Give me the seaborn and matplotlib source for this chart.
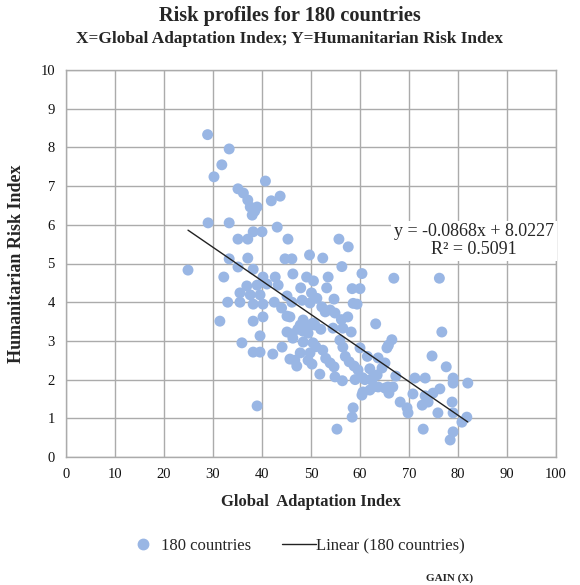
import numpy as np
import pandas as pd
import matplotlib
matplotlib.use("Agg")
import matplotlib.pyplot as plt
from matplotlib.lines import Line2D
import seaborn as sns

# ---- data ----
gain = [
    24.9, 28.9, 29.0, 30.2, 31.8, 33.3, 33.3, 33.3, 32.2, 33.0, 31.4, 35.1, 36.2, 37.1, 37.6,
    39.0, 38.0, 38.5, 40.7, 41.9, 43.7, 43.1, 38.2, 40.0, 35.1, 37.1, 45.3, 35.1, 38.2, 37.1,
    44.7, 46.1, 46.3, 40.2, 42.7, 36.9, 39.0, 41.0, 43.3, 35.5, 37.6, 39.6, 45.1, 35.5, 38.2,
    40.2, 46.1, 38.2, 40.2, 45.1, 39.6, 35.9, 38.2, 39.6, 42.2, 44.1, 39.0, 55.7, 57.6, 49.7,
    52.4, 56.3, 60.4, 49.1, 50.5, 53.5, 47.9, 53.2, 50.1, 58.4, 60.0, 54.7, 58.6, 59.4, 52.2,
    53.9, 54.9, 52.9, 45.7, 48.4, 50.4, 47.8, 49.8, 50.8, 63.2, 54.5, 56.5, 58.2, 45.1, 46.1,
    49.4, 47.3, 48.4, 55.9, 46.3, 48.4, 50.4, 52.4, 56.5, 60.0, 65.5, 66.5, 65.8, 47.8, 49.8,
    45.7, 47.1, 46.7, 49.4, 50.2, 51.8, 53.9, 54.7, 54.9, 56.4, 57.8, 58.8, 59.6, 62.0, 63.5,
    62.7, 62.4, 62.7, 63.7, 65.1, 60.6, 62.0, 60.4, 58.6, 58.4, 55.3, 66.9, 76.2, 76.7, 65.1,
    74.7, 77.6, 67.3, 71.2, 73.3, 79.0, 79.0, 82.0, 65.7, 66.7, 65.9, 70.8, 73.3, 73.9, 72.7,
    74.9, 76.3, 78.8, 68.2, 69.6, 69.8, 75.9, 79.0, 80.8, 81.8, 72.9, 79.0, 78.4, 63.7, 48.2,
    49.8, 51.2, 44.0, 42.5, 56.2, 57.5, 52.0, 53.0, 51.0, 57.0, 61.5, 64.5, 59.0, 60.5, 61.0,
]
risk = [
    4.83, 8.33, 6.05, 7.24, 7.55, 7.96, 6.05, 5.12, 4.65, 4.00, 3.51, 6.93, 6.82, 6.64, 6.46,
    6.46, 6.25, 6.35, 7.13, 6.62, 6.74, 5.94, 5.82, 5.82, 5.63, 5.63, 5.63, 4.91, 4.85, 5.14,
    5.12, 5.12, 4.73, 4.65, 4.65, 4.42, 4.44, 4.47, 4.44, 4.24, 4.19, 4.19, 4.16, 4.00, 3.95,
    3.95, 4.00, 3.51, 3.62, 3.64, 3.13, 2.95, 2.71, 2.71, 2.66, 2.84, 1.32, 5.63, 5.43, 5.22,
    5.14, 4.92, 4.74, 4.65, 4.55, 4.65, 4.37, 4.37, 4.24, 4.35, 4.35, 4.08, 3.97, 3.95, 3.88,
    3.80, 3.72, 3.75, 3.62, 3.54, 3.46, 3.41, 3.41, 3.41, 3.44, 3.33, 3.33, 3.23, 3.23, 3.18,
    3.20, 3.30, 3.25, 3.02, 3.07, 2.97, 2.95, 2.76, 2.84, 2.82, 2.82, 3.03, 2.89, 2.69, 2.69,
    2.53, 2.35, 2.50, 2.50, 2.40, 2.14, 2.43, 2.33, 2.07, 1.97, 2.46, 2.35, 2.25, 2.28, 2.12,
    2.07, 1.99, 1.81, 1.81, 1.78, 1.68, 1.73, 1.60, 1.27, 1.03, 0.72, 4.62, 4.62, 3.23, 2.43,
    2.61, 2.33, 2.09, 2.04, 2.04, 2.04, 1.91, 1.91, 1.81, 1.81, 1.65, 1.63, 1.58, 1.42, 1.34,
    1.65, 1.76, 1.42, 1.42, 1.27, 1.14, 1.14, 1.14, 0.90, 1.03, 0.72, 0.65, 0.44, 2.56, 4.05,
    3.98, 4.10, 3.85, 4.00, 3.55, 3.62, 3.30, 2.55, 2.85, 2.60, 2.60, 2.30, 2.00, 2.05, 2.00,
]
trend_slope = -0.0868
trend_intercept = 8.0227
x_ticks = [0, 10, 20, 30, 40, 50, 60, 70, 80, 90, 100]
y_ticks = [0, 1, 2, 3, 4, 5, 6, 7, 8, 9, 10]

df = pd.DataFrame({"GAIN": gain, "Risk": risk})

sns.set_theme(style="white")
plt.rcParams["font.family"] = ["Liberation Serif", "DejaVu Serif"]

fig = plt.figure(figsize=(5.8, 5.85), dpi=100)
ax = fig.add_axes([66 / 580, 1 - 457 / 585, (556 - 66) / 580, (457 - 70) / 585])

point_color = "#99B6E4"
sns.scatterplot(data=df, x="GAIN", y="Risk", ax=ax, color=point_color, s=62,
                edgecolor="none", linewidth=0, zorder=3, legend=False)

xs = np.array([min(gain), max(gain)])
ax.plot(xs, trend_slope * xs + trend_intercept, color="#222222", lw=1.0, zorder=4)

ax.set_xlim(0, 100)
ax.set_ylim(0, 10)
ax.set_xticks(x_ticks)
ax.set_yticks(y_ticks)
ax.grid(True, color="#ABABAB", lw=1.0, zorder=0)
ax.set_axisbelow(True)
for s in ax.spines.values():
    s.set_color("#ABABAB")
    s.set_linewidth(1.0)
ax.tick_params(length=0, labelsize=10.5, colors="#111111", pad=8)
for lab in ax.get_xticklabels() + ax.get_yticklabels():
    lab.set_fontfamily(["Liberation Serif"])

ax.set_xlabel("Global  Adaptation Index", fontsize=12, fontweight="bold", labelpad=9)
ax.set_ylabel("Humanitarian Risk Index", fontsize=13, fontweight="bold", labelpad=11)

fig.text(0.5, 1 - 16 / 585, "Risk profiles for 180 countries", ha="center", va="center",
         fontsize=14.7, fontweight="bold")
fig.text(0.5, 1 - 39 / 585, "X=Global Adaptation Index; Y=Humanitarian Risk Index",
         ha="center", va="center", fontsize=12.4, fontweight="bold")

ax.text(83.3, 5.59, f"y = {trend_slope}x + {trend_intercept}\nR² = 0.5091",
        ha="center", va="center", fontsize=13, linespacing=1.05,
        bbox=dict(facecolor="white", edgecolor="none", pad=2), zorder=5)

handles = [
    Line2D([], [], marker="o", ls="none", color=point_color, markersize=7.5),
    Line2D([], [], color="#222222", lw=1.0),
]
fig.legend(handles, ["180 countries", "Linear (180 countries)"], loc="center",
           bbox_to_anchor=(0.51, 1 - 546 / 585), ncol=2, frameon=False, fontsize=12,
           handlelength=2.0, handletextpad=0.05, columnspacing=1.9)

fig.text(450 / 580, 1 - 578 / 585, "GAIN (X)", ha="center", va="center",
         fontsize=8, fontweight="bold")

fig.savefig("out.png", dpi=100, facecolor="white")
